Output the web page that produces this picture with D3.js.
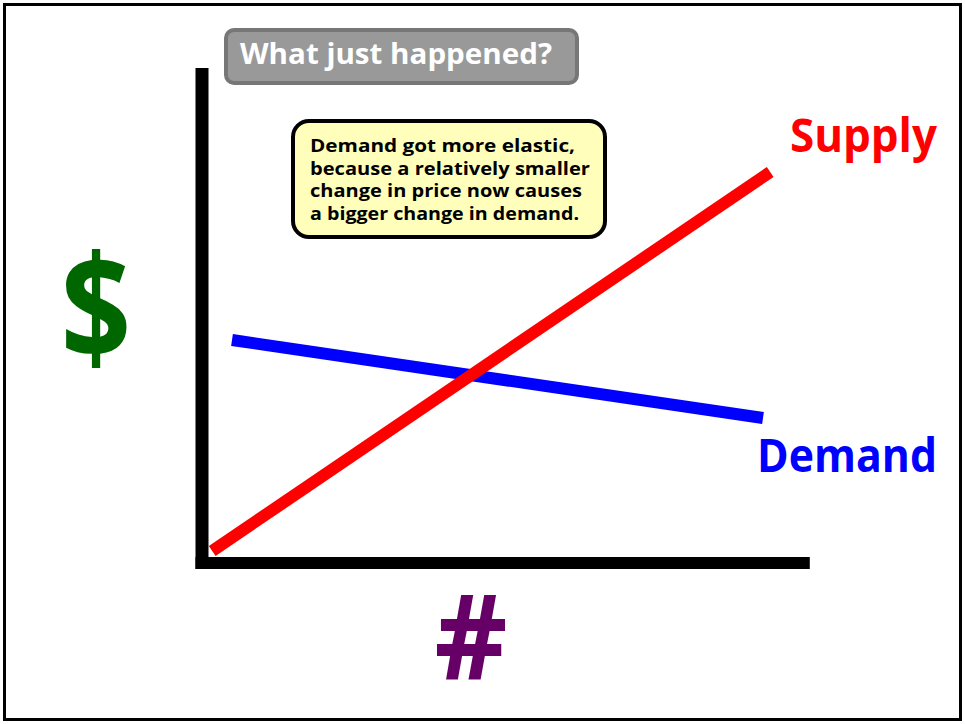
<!DOCTYPE html>
<html>
<head>
<meta charset="utf-8">
<script src="https://cdn.jsdelivr.net/npm/d3@7"></script>
<style>
  html, body { margin: 0; padding: 0; background: #fff; }
  svg { display: block; }
  text { font-family: "Open Sans", "Noto Sans", sans-serif; font-weight: bold; }
</style>
</head>
<body>
<svg id="chart" width="965" height="724"></svg>
<script>
// ---- Data ----
const supply = [ { q: 1.7, p: 2.4 }, { q: 94.7, p: 78.2 } ];
const demand = [ { q: 5.0, p: 44.6 }, { q: 93.5, p: 29.0 } ];
const seriesLabels = ["Supply", "Demand"];
const axisLabels = ["$", "#"];
const titleText = "What just happened?";
const noteLines = [
  "Demand got more elastic,",
  "because a relatively smaller",
  "change in price now causes",
  "a bigger change in demand."
];

const svg = d3.select("#chart");
const W = 965, H = 724;

// outer frame
svg.append("rect")
  .attr("x", 4.5).attr("y", 4.5)
  .attr("width", W - 9).attr("height", H - 9)
  .attr("fill", "#fff").attr("stroke", "#000").attr("stroke-width", 3);

// scales
const x = d3.scaleLinear().domain([0, 100]).range([202, 802]);
const y = d3.scaleLinear().domain([0, 100]).range([563, 63]);

// axes (thick black)
svg.append("line")
  .attr("x1", x(0)).attr("x2", x(0))
  .attr("y1", y(99)).attr("y2", y(0) + 6)
  .attr("stroke", "#000").attr("stroke-width", 13);
svg.append("line")
  .attr("x1", x(0) - 6.5).attr("x2", x(101.3))
  .attr("y1", y(0)).attr("y2", y(0))
  .attr("stroke", "#000").attr("stroke-width", 12);

const line = d3.line().x(d => x(d.q)).y(d => y(d.p));

svg.append("path").datum(demand)
  .attr("d", line).attr("fill", "none")
  .attr("stroke", "#0000ff").attr("stroke-width", 12).attr("stroke-linecap", "butt");

svg.append("path").datum(supply)
  .attr("d", line).attr("fill", "none")
  .attr("stroke", "#ff0000").attr("stroke-width", 12).attr("stroke-linecap", "butt");

// series labels
svg.append("text").text(seriesLabels[0])
  .attr("x", 790).attr("y", 152)
  .attr("font-size", 46).attr("fill", "#ff0000")
  .attr("textLength", 147).attr("lengthAdjust", "spacingAndGlyphs");
svg.append("text").text(seriesLabels[1])
  .attr("x", 757).attr("y", 472)
  .attr("font-size", 46).attr("fill", "#0000ff")
  .attr("textLength", 180).attr("lengthAdjust", "spacingAndGlyphs");

// axis labels
svg.append("text").text(axisLabels[0])
  .attr("transform", "translate(96,360) scale(0.85,1)")
  .attr("text-anchor", "middle")
  .attr("font-size", 145).attr("font-weight", 600).attr("fill", "#006600");
svg.append("text").text(axisLabels[1])
  .attr("transform", "translate(471,680) scale(0.95,1)")
  .attr("text-anchor", "middle")
  .attr("font-size", 119).attr("fill", "#660066");

// title box
svg.append("rect")
  .attr("x", 226).attr("y", 30).attr("width", 351).attr("height", 53)
  .attr("rx", 8).attr("ry", 8)
  .attr("fill", "#999999").attr("stroke", "#777777").attr("stroke-width", 4);
svg.append("text").text(titleText)
  .attr("x", 240).attr("y", 64)
  .attr("font-size", 28).attr("fill", "#ffffff")
  .attr("textLength", 312).attr("lengthAdjust", "spacingAndGlyphs");

// note box
svg.append("rect")
  .attr("x", 293).attr("y", 121).attr("width", 312).attr("height", 116)
  .attr("rx", 16).attr("ry", 16)
  .attr("fill", "#ffffbb").attr("stroke", "#000").attr("stroke-width", 4);
const noteWidths = [265, 280, 272, 269];
svg.selectAll("text.note").data(noteLines).enter().append("text")
  .attr("class", "note")
  .text(d => d)
  .attr("x", 310)
  .attr("y", (d, i) => 152 + i * 22.5)
  .attr("font-size", 17).attr("fill", "#000")
  .attr("textLength", (d, i) => noteWidths[i]).attr("lengthAdjust", "spacingAndGlyphs");
</script>
</body>
</html>
